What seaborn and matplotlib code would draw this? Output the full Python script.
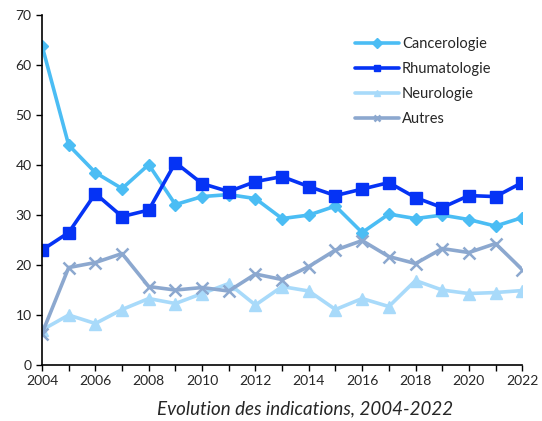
import numpy as np
import pandas as pd
import matplotlib
matplotlib.use("Agg")
import matplotlib.pyplot as plt
import seaborn as sns

years = list(range(2004, 2023))
cancerologie = [63.9, 44.0, 38.5, 35.3, 40.1, 32.1, 33.7, 34.1, 33.3, 29.3, 30.0, 31.8,
                26.5, 30.2, 29.3, 30.0, 29.1, 27.8, 29.5]
rhumatologie = [23.0, 26.5, 34.3, 29.7, 31.0, 40.5, 36.3, 34.7, 36.7, 37.7, 35.7, 33.9,
                35.2, 36.5, 33.5, 31.5, 33.9, 33.7, 36.5]
neurologie = [7.0, 10.0, 8.3, 11.1, 13.3, 12.3, 14.3, 16.3, 12.0, 15.7, 14.8, 11.1,
              13.3, 11.7, 16.9, 15.0, 14.3, 14.5, 14.9]
autres = [6.3, 19.5, 20.5, 22.3, 15.7, 15.0, 15.5, 14.8, 18.2, 17.1, 19.7, 23.0,
          24.9, 21.7, 20.3, 23.3, 22.5, 24.3, 19.1]

series = ["Cancerologie", "Rhumatologie", "Neurologie", "Autres"]
df = pd.DataFrame({"annee": years, "Cancerologie": cancerologie, "Rhumatologie": rhumatologie,
                   "Neurologie": neurologie, "Autres": autres})
long = df.melt(id_vars="annee", var_name="indication", value_name="pct")

sns.set_style("ticks")
plt.rcParams['font.family'] = ['Lato', 'DejaVu Sans']

colors = {"Cancerologie": "#4BBDF4", "Rhumatologie": "#0533F5",
          "Neurologie": "#A8DAFA", "Autres": "#8CA8CF"}
markers = {"Cancerologie": "D", "Rhumatologie": "s", "Neurologie": "^", "Autres": "x"}
msize = {"Cancerologie": 6, "Rhumatologie": 9, "Neurologie": 8, "Autres": 9}

fig = plt.figure(figsize=(5.42, 4.21), dpi=100)
ax = fig.add_axes([0.0775, 0.133, 0.886, 0.831])

for s in series:
    sub = long[long["indication"] == s]
    sns.lineplot(data=sub, x="annee", y="pct", ax=ax, color=colors[s], marker=markers[s],
                 markersize=msize[s], linewidth=2.6, markeredgecolor=colors[s],
                 markeredgewidth=1.8 if s == "Autres" else 1, label=s)

ax.set_xlim(2004, 2022)
ax.set_ylim(0, 70)
ax.set_xticks(range(2004, 2023))
ax.set_xticklabels([str(y) if y % 2 == 0 else "" for y in years])
ax.set_yticks(range(0, 71, 10))
ax.tick_params(axis="both", labelsize=10, length=4, width=1, color="black", direction="out")
for sp in ["top", "right"]:
    ax.spines[sp].set_visible(False)
for sp in ["left", "bottom"]:
    ax.spines[sp].set_color("black")
    ax.spines[sp].set_linewidth(1.2)
ax.set_ylabel("")
ax.set_xlabel("Evolution des indications, 2004-2022", fontsize=13.5, style="italic")
ax.xaxis.set_label_coords(0.548, -0.1)

leg = ax.legend(loc="upper left", bbox_to_anchor=(0.625, 0.975), frameon=False, fontsize=10.5,
                handlelength=3.0, handletextpad=0.2, labelspacing=0.75)
for h in leg.legend_handles:
    h.set_markersize(5)

fig.savefig("out.png", dpi=100)
